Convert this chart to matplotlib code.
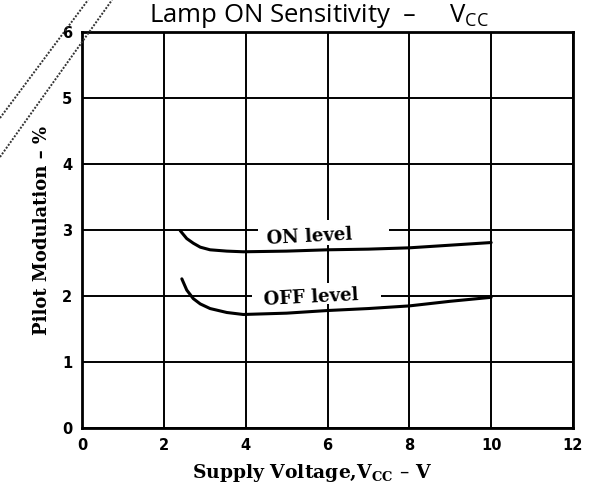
import matplotlib
matplotlib.use("Agg")
import matplotlib.pyplot as plt
from matplotlib.lines import Line2D
from matplotlib.patches import Rectangle

# Data
on_x = [2.40, 2.56, 2.72, 2.89, 3.13, 3.54, 3.94, 5.0, 6.0, 7.0, 8.0, 9.0, 10.0]
on_y = [2.99, 2.87, 2.80, 2.74, 2.70, 2.68, 2.67, 2.68, 2.70, 2.71, 2.73, 2.77, 2.81]
off_x = [2.44, 2.56, 2.72, 2.89, 3.13, 3.54, 3.94, 5.0, 6.0, 7.0, 8.0, 9.0, 10.0]
off_y = [2.26, 2.09, 1.96, 1.88, 1.81, 1.75, 1.72, 1.74, 1.78, 1.81, 1.85, 1.92, 1.98]
x_ticks = [0, 2, 4, 6, 8, 10, 12]
y_ticks = [0, 1, 2, 3, 4, 5, 6]

W, H = 589, 495
fig = plt.figure(figsize=(W / 100, H / 100), dpi=100)
ax = fig.add_axes([82 / W, 1 - 428 / H, (573 - 82) / W, (428 - 32) / H])
ax.set_xlim(0, 12)
ax.set_ylim(0, 6)
ax.set_xticks(x_ticks)
ax.set_yticks(y_ticks)
ax.grid(True, color="black", linewidth=1.4, zorder=1)
ax.set_axisbelow(True)
ax.tick_params(length=0, pad=7)
for lab in ax.get_xticklabels() + ax.get_yticklabels():
    lab.set_fontfamily("DejaVu Sans")
    lab.set_fontweight("bold")
    lab.set_fontsize(10.5)
for s in ax.spines.values():
    s.set_linewidth(2)
    s.set_color("black")

# white masks behind labels (gaps in grid lines)
ax.add_patch(Rectangle((4.3, 2.78), 3.2, 0.37, facecolor="white", edgecolor="none", zorder=2))
ax.add_patch(Rectangle((4.15, 1.88), 3.15, 0.32, facecolor="white", edgecolor="none", zorder=2))

ax.plot(on_x, on_y, color="black", linewidth=2.2, zorder=3, solid_capstyle="round")
ax.plot(off_x, off_y, color="black", linewidth=2.2, zorder=3, solid_capstyle="round")

serif = ["DejaVu Serif"]
ax.text(5.55, 2.9, "ON level", family=serif, fontweight="bold", fontsize=13,
        ha="center", va="center", rotation=3, zorder=4)
ax.text(5.6, 1.98, "OFF level", family=serif, fontweight="bold", fontsize=13,
        ha="center", va="center", rotation=3, zorder=4)

ax.set_xlabel("Supply Voltage,V$_{\\mathregular{CC}}$ \u2013 V", family=serif,
              fontweight="bold", fontsize=13.5, labelpad=4)
ax.xaxis.set_label_coords((312 - 82) / (573 - 82), -0.085)
ax.set_ylabel("Pilot Modulation \u2013 %", family=serif, fontweight="bold",
              fontsize=13, labelpad=8)

fig.text(319 / W, 1 - 22 / H, "Lamp ON Sensitivity  \u2013     V$_{\\mathregular{CC}}$",
         family="Open Sans", fontsize=18.5, ha="center", va="baseline")

# scan artefact: two dotted diagonal lines at top-left
for (x0, y0, x1, y1) in [(0, 118, 88, 0), (0, 157, 112, 0)]:
    fig.add_artist(Line2D([x0 / W, x1 / W], [1 - y0 / H, 1 - y1 / H],
                          transform=fig.transFigure, color="#333333",
                          linewidth=1.4, linestyle=(0, (1, 0.8))))

fig.savefig("out.png", dpi=100)
